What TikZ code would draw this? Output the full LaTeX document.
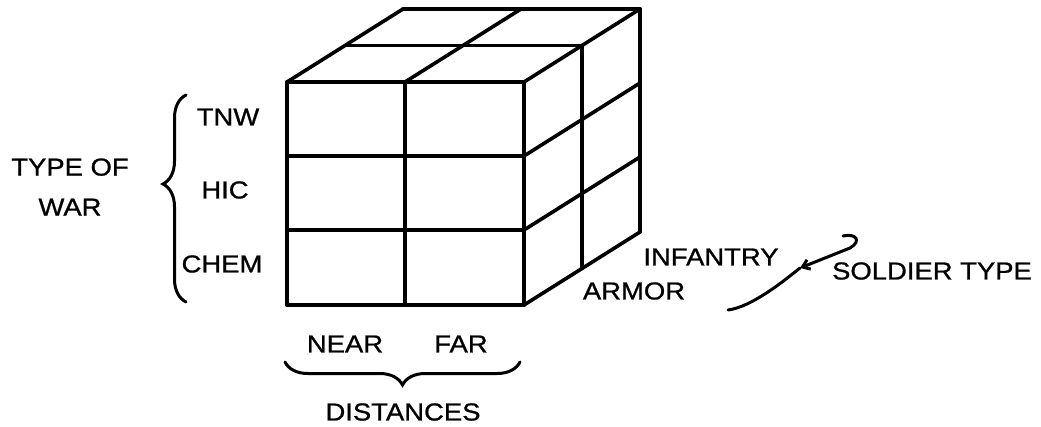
\documentclass[tikz,border=0pt]{standalone}
\usepackage{fontspec}
\setmainfont{Liberation Sans}[FakeStretch=1.12,FakeBold=0.9]
\usetikzlibrary{arrows.meta,decorations.pathreplacing}
\begin{document}
\begin{tikzpicture}[x=1pt,y=-1pt,font=\fontsize{24.5}{29}\selectfont,
  cube/.style={line width=3.6pt,line cap=round,line join=round},
  brc/.style={decorate,decoration={brace,amplitude=23pt},line width=3pt,line cap=round},
  sq/.style={line width=3pt,line cap=round},
  lbl/.style={inner sep=0pt}]
\useasboundingbox (0,0) rectangle (1041,427);
\foreach \x in {287,405,524} \draw[cube] (\x,82) -- (\x,305);
\foreach \y in {82,156,230,305} \draw[cube] (287,\y) -- (524,\y);
\foreach \k in {1,2} \draw[cube] ({287+58*\k},{82-36.5*\k}) -- ++(237,0);
\foreach \x in {287,405,524} \draw[cube] (\x,82) -- ++(116,-73);
\foreach \k in {1,2} \draw[cube] ({524+58*\k},{82-36.5*\k}) -- ++(0,223);
\foreach \y in {156,230,305} \draw[cube] (524,\y) -- ++(116,-73);
\node[lbl] (tnw) at (228,117) {TNW};
\node[lbl] (hic) at (225,190) {HIC};
\node[lbl] (chem) at (222,264) {CHEM};
\node[lbl,align=center] (war) at (70,187) {TYPE OF\\[11pt]WAR};
\node[lbl] (near) at (345,344) {NEAR};
\node[lbl] (far) at (461,344) {FAR};
\node[lbl] (dist) at (403,412) {DISTANCES};
\node[lbl] (inf) at (711,257) {INFANTRY};
\node[lbl] (arm) at (634,291) {ARMOR};
\node[lbl] (sold) at (932,271) {SOLDIER TYPE};
\coordinate (wb) at (186,302);
\coordinate (wt) at (186,95);
\draw[brc,decoration={aspect=0.57}] (wb) -- (wt);
\coordinate (dr) at (520,362);
\coordinate (dl) at (285,362);
\draw[brc] (dr) -- (dl);
\coordinate (sqa) at (843,236);
\coordinate (sqm) at (800,268);
\coordinate (sqb) at (728,310);
\draw[sq,-{Straight Barb[length=7pt,width=10pt]}] (sqa) .. controls (856,233) and (862,241) .. (850,248) -- (sqm);
\draw[sq] (sqm) .. controls (785,280) and (752,307) .. (sqb);
\end{tikzpicture}
\end{document}
